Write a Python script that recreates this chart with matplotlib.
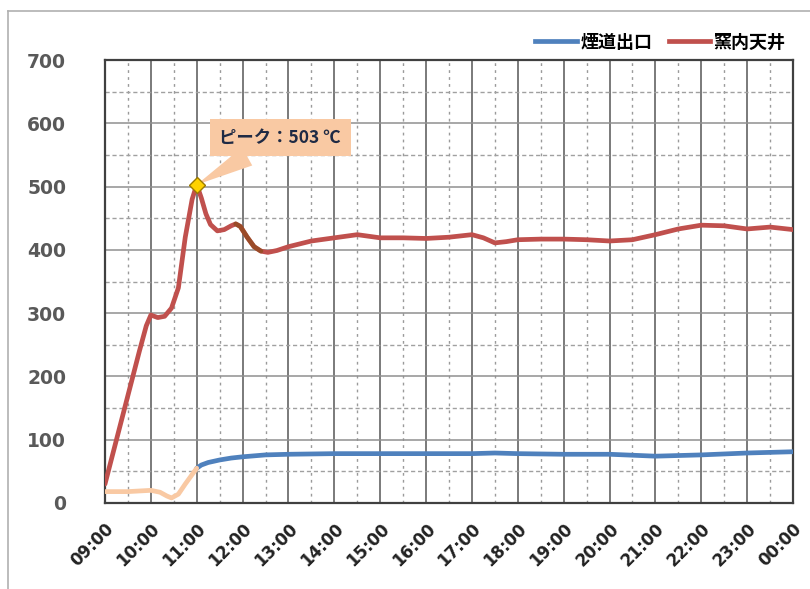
import numpy as np
import matplotlib
matplotlib.use("Agg")
import matplotlib.pyplot as plt
from matplotlib.lines import Line2D
from matplotlib.ticker import MultipleLocator

plt.rcParams['font.family'] = ['DejaVu Sans', 'Noto Sans CJK JP']

# time in hours (24 = 00:00 next day)
red_t = [9.0, 9.25, 9.5, 9.75, 9.9, 10.0, 10.15, 10.3, 10.45, 10.6, 10.75, 10.9, 11.0,
         11.1, 11.2, 11.3, 11.45, 11.6, 11.75, 11.85, 11.95, 12.1, 12.25, 12.4, 12.55, 12.75,
         13.0, 13.5, 14.0, 14.5, 15.0, 15.5, 16.0, 16.5, 17.0, 17.25, 17.5, 17.75,
         18.0, 18.5, 19.0, 19.5, 20.0, 20.5, 21.0, 21.5, 22.0, 22.5, 23.0, 23.5, 24.0]
red_v = [30, 100, 170, 240, 280, 297, 293, 295, 308, 340, 420, 480, 503,
         482, 457, 440, 430, 432, 438, 441, 437, 420, 405, 398, 396, 399,
         405, 414, 419, 424, 419, 419, 418, 420, 424, 419, 411, 413,
         416, 417, 417, 416, 414, 416, 424, 433, 439, 438, 433, 436, 432]

blue_t = [9.0, 9.5, 10.0, 10.2, 10.35, 10.45, 10.6, 10.75, 10.9, 11.0, 11.1, 11.25, 11.5,
          11.75, 12.0, 12.5, 13.0, 14.0, 15.0, 16.0, 17.0, 17.5, 18.0, 19.0, 20.0,
          21.0, 22.0, 23.0, 24.0]
blue_v = [18, 18, 20, 17, 11, 8, 14, 30, 45, 55, 60, 64, 68,
          71, 73, 76, 77, 78, 78, 78, 78, 79, 78, 77, 77,
          74, 76, 79, 81]

tick_labels = ["09:00", "10:00", "11:00", "12:00", "13:00", "14:00", "15:00", "16:00",
               "17:00", "18:00", "19:00", "20:00", "21:00", "22:00", "23:00", "00:00"]

peak_t, peak_v = 11.0, 503

RED = "#C0504D"
BLUE = "#4F81BD"
PEACH = "#F9C9A3"
BROWN = "#8E4A1C"

fig = plt.figure(figsize=(8.1, 5.89), dpi=100)
ax = fig.add_axes([105/810, 1 - 503/589, (793 - 105)/810, (503 - 60)/589])

# grid
ax.set_xlim(9, 24)
ax.set_ylim(0, 700)
ax.xaxis.set_major_locator(MultipleLocator(1))
ax.xaxis.set_minor_locator(MultipleLocator(0.5))
ax.yaxis.set_major_locator(MultipleLocator(100))
ax.yaxis.set_minor_locator(MultipleLocator(50))
ax.grid(which='major', axis='x', color='#707070', lw=1.3)
ax.grid(which='minor', axis='x', color='#9a9a9a', lw=1.0, ls=(0, (2, 3)))
ax.grid(which='major', axis='y', color='#909090', lw=1.1)
ax.grid(which='minor', axis='y', color='#a0a0a0', lw=1.0, ls=(0, (3, 2)))
ax.set_axisbelow(True)
ax.tick_params(which='both', length=0)
for s in ax.spines.values():
    s.set_color('#404040')
    s.set_linewidth(1.6)

# series
rt = np.array(red_t); rv = np.array(red_v)
bt = np.array(blue_t); bv = np.array(blue_v)
ax.plot(bt[bt >= 11.0], bv[bt >= 11.0], color=BLUE, lw=3.4, solid_capstyle='round',
        solid_joinstyle='round', zorder=3)
ax.plot(bt[bt <= 11.0], bv[bt <= 11.0], color=PEACH, lw=3.4, solid_capstyle='round',
        solid_joinstyle='round', zorder=3)
ax.plot(rt, rv, color=RED, lw=3.4, solid_capstyle='round', solid_joinstyle='round', zorder=3)
m = (rt >= 11.85) & (rt <= 12.4)
ax.plot(rt[m], rv[m], color=BROWN, lw=3.4, alpha=0.75, solid_capstyle='round',
        solid_joinstyle='round', zorder=4)

# legend
handles = [Line2D([], [], color=BLUE, lw=3.4), Line2D([], [], color=RED, lw=3.4)]
fig.legend(handles, ["煙道出口", "窯内天井"], loc='center right', bbox_to_anchor=(0.99, 1 - 42/589),
           ncol=2, frameon=False, handlelength=2.3, handletextpad=0.2, columnspacing=0.9,
           prop={'family': ['Noto Sans CJK JP'], 'weight': 'bold', 'size': 13})

# peak callout
ax.annotate("ピーク：503 ℃", xy=(peak_t, peak_v), xytext=(12.82, 577),
            ha='center', va='center', fontsize=12.5, fontweight='bold', color='#1F2A44',
            family=['Noto Sans CJK JP', 'DejaVu Sans'],
            bbox=dict(boxstyle='square,pad=0.55', fc=PEACH, ec='none'),
            arrowprops=dict(arrowstyle='wedge,tail_width=1.2', fc=PEACH, ec='none',
                            shrinkA=0, shrinkB=0),
            zorder=5)
ax.plot([peak_t], [peak_v], marker='D', ms=8, color='#FFD200', mec='#9C7A00', mew=1, zorder=6)

# ticks
ax.set_xticks(np.arange(9, 25, 1))
ax.set_xticklabels(tick_labels, rotation=45, ha='right', va='top', rotation_mode='anchor',
                   fontsize=12, fontweight='bold', color='#222222')
ax.tick_params(axis='x', pad=12)
ax.tick_params(axis='y', pad=28, labelsize=13.5, labelcolor='#595959')
for lab in ax.get_yticklabels():
    lab.set_fontweight('bold')

# outer frame of the picture
fig.add_artist(Line2D([8/810, 8/810], [0, 1 - 11/589], transform=fig.transFigure, color='#b0b0b0', lw=1.2))
fig.add_artist(Line2D([8/810, 1], [1 - 11/589, 1 - 11/589], transform=fig.transFigure, color='#b0b0b0', lw=1.2))

fig.savefig("out.png", dpi=100)
